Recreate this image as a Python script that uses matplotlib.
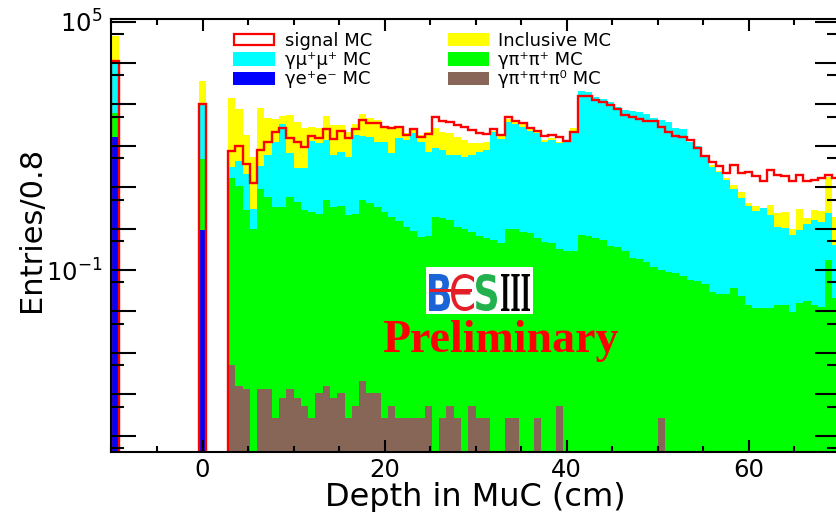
import numpy as np
import matplotlib
matplotlib.use("Agg")
import matplotlib.pyplot as plt
from matplotlib.patches import Rectangle, PathPatch
from matplotlib.textpath import TextPath
from matplotlib.font_manager import FontProperties
from matplotlib.transforms import Affine2D
from matplotlib.ticker import FixedLocator, FuncFormatter, MultipleLocator

plt.rcParams['font.family'] = ['DejaVu Sans']
plt.rcParams['mathtext.fontset'] = 'dejavusans'
plt.rcParams['mathtext.default'] = 'regular'

# ---------------- binning: 100 bins of 0.8 cm ----------------
depth_min, depth_max, n_bins = -10.0, 70.0, 100
edges = np.linspace(depth_min, depth_max, n_bins + 1)

# ---------------- histogram contents (10 bins per row) ----------------
signal_mc = [
    11200, 0, 0, 0, 0, 0, 0, 0, 0, 0,
    0, 0, 1020, 0, 0, 0, 76, 101, 36, 12.4,
    79, 126, 219, 274, 157, 121, 95, 176, 157, 250,
    143, 228, 157, 255, 420, 349, 349, 290, 264, 290,
    182, 255, 166, 189, 506, 397, 383, 318, 290, 241,
    208, 189, 255, 182, 488, 405, 362, 274, 228, 173,
    182, 160, 131, 219, 1630, 1630, 1280, 1120, 968, 760,
    555, 488, 436, 405, 405, 290, 219, 173, 166, 138,
    90, 57, 40, 33, 21.6, 34, 21.6, 22.8, 19, 14.1,
    26, 19.7, 19, 14.4, 19.7, 14.4, 14.9, 16.4, 19.7, 16.4,
]

inclusive_mc = [
    34000, 0, 0, 0, 0, 0, 0, 0, 0, 0,
    0, 0, 2720, 0, 0, 0, 1370, 731, 161, 52,
    800, 401, 310, 195, 487, 339, 235, 159, 149, 387,
    258, 246, 164, 148, 399, 313, 294, 185, 208, 155,
    62, 64, 56, 147, 177, 140, 138, 106, 83, 55,
    43, 47, 9, 31, 53, 39, 40, 36, 19, 12,
    13, 11, 5, 36, 0, 0, 0, 0, 0, 0,
    0, 0, 0, 0, 0, 0, 0, 0, 0, 0,
    0, 0, 2.7, 1.8, 2.1, 2.4, 2.4, 0.64, 0.94, 0,
    1.6, 1.23, 1.42, 0.28, 2.05, 0.57, 1.2, 1.19, 15.7, 1.54,
]

mumu_mc = [
    10600, 0, 0, 0, 0, 0, 0, 0, 0, 0,
    0, 0, 972, 0, 0, 0, 14.3, 32, 17.7, 2.0,
    23.4, 54, 123, 327, 62, 25, 25.8, 128, 113, 133,
    57, 68, 53, 180, 171, 162, 123, 118, 64, 150,
    137, 199, 125, 71, 85, 77, 60, 59, 54, 59,
    71, 78, 218, 144, 382, 329, 289, 227, 199, 125,
    138, 115, 121, 228, 2110, 2030, 1540, 1350, 1160, 881,
    733, 693, 643, 575, 461, 420, 369, 274, 255, 121,
    101, 57, 31.3, 22.8, 14.9, 8.9, 5.4, 3.6, 2.65, 3.2,
    2.12, 1.10, 1.04, 0.69, 0.90, 1.25, 1.60, 1.46, 2.17, 0.38,
]

pipi_mc = [
    457, 0, 0, 0, 0, 0, 0, 0, 0, 0,
    0, 0, 47, 0, 0, 0, 17, 10.9, 2.8, 0.98,
    9.1, 5.9, 3.4, 3.4, 5.7, 4.5, 2.8, 2.5, 2.25, 4.9,
    3.4, 3.5, 2.1, 2.2, 4.9, 4.1, 3.4, 2.5, 1.9, 1.5,
    1.1, 0.9, 0.64, 0.67, 1.9, 1.8, 1.6, 1.1, 1.0, 0.84,
    0.67, 0.58, 0.53, 0.44, 1.0, 0.98, 0.84, 0.77, 0.58, 0.48,
    0.44, 0.33, 0.29, 0.28, 0.70, 0.67, 0.58, 0.53, 0.37, 0.35,
    0.28, 0.19, 0.18, 0.16, 0.12, 0.10, 0.088, 0.083, 0.073, 0.057,
    0.054, 0.045, 0.029, 0.027, 0.027, 0.037, 0.023, 0.014, 0.012, 0.012,
    0.012, 0.014, 0.014, 0.0099, 0.016, 0.018, 0.014, 0.013, 0.17, 0.021,
]

ee_mc = [
    163, 0, 0, 0, 0, 0, 0, 0, 0, 0,
    0, 0, 0.93, 0, 0, 0, 0, 0, 0, 0,
    0, 0, 0, 0, 0, 0, 0, 0, 0, 0,
    0, 0, 0, 0, 0, 0, 0, 0, 0, 0,
    0, 0, 0, 0, 0, 0, 0, 0, 0, 0,
    0, 0, 0, 0, 0, 0, 0, 0, 0, 0,
    0, 0, 0, 0, 0, 0, 0, 0, 0, 0,
    0, 0, 0, 0, 0, 0, 0, 0, 0, 0,
    0, 0, 0, 0, 0, 0, 0, 0, 0, 0,
    0, 0, 0, 0, 0, 0, 0, 0, 0, 0,
]

# gamma pi+ pi+ pi0: raw event counts and per-event weight
pipipi0_events = [
    0, 0, 0, 0, 0, 0, 0, 0, 0, 0,
    0, 0, 0, 0, 0, 0, 19, 6, 5, 0,
    5, 5, 1, 3, 5, 3, 2, 1, 4, 6,
    3, 4, 1, 2, 8, 4, 4, 1, 2, 1,
    1, 1, 1, 2, 0, 1, 2, 1, 0, 2,
    1, 1, 0, 0, 1, 1, 0, 0, 1, 0,
    0, 2, 0, 0, 0, 0, 0, 0, 0, 0,
    0, 0, 0, 0, 0, 1, 0, 0, 0, 0,
    0, 0, 0, 0, 0, 0, 0, 0, 0, 0,
    0, 0, 0, 0, 0, 0, 0, 0, 0, 0,
]
pipipi0_weight = 2.65e-5

for arr in (signal_mc, inclusive_mc, mumu_mc, pipi_mc, ee_mc, pipipi0_events):
    assert len(arr) == n_bins

labels = {
    'signal': 'signal MC',
    'mumu': 'γμ⁺μ⁺ MC',
    'ee': 'γe⁺e⁻ MC',
    'incl': 'Inclusive MC',
    'pipi': 'γπ⁺π⁺ MC',
    'pipipi0': 'γπ⁺π⁺π⁰ MC',
}
colors = {
    'signal': '#ff0000',
    'mumu': '#00ffff',
    'ee': '#0000ff',
    'incl': '#ffff00',
    'pipi': '#00ff00',
    'pipipi0': '#876657',
}

# ---------------- figure ----------------
W, H = 836, 512
fig = plt.figure(figsize=(W / 100, H / 100), dpi=100)
fig.patch.set_facecolor('white')

# frame in pixels: x 111.5 .. 839.7, y 19 .. 452 (right edge runs off the canvas)
ax_l, ax_r, ax_t, ax_b = 111.5, 839.7, 19.0, 452.0
ax = fig.add_axes([ax_l / W, 1 - ax_b / H, (ax_r - ax_l) / W, (ax_b - ax_t) / H])

# stacked histogram (bottom -> top)
stack = [
    ('pipipi0', np.asarray(pipipi0_events, float) * pipipi0_weight),
    ('ee', np.asarray(ee_mc, float)),
    ('pipi', np.asarray(pipi_mc, float)),
    ('mumu', np.asarray(mumu_mc, float)),
    ('incl', np.asarray(inclusive_mc, float)),
]
cum = np.cumsum([v for _, v in stack], axis=0)
floor = 1e-9
for (key, _), level in reversed(list(zip(stack, cum))):
    ax.stairs(np.clip(level, floor, None), edges, baseline=floor, fill=True,
              facecolor=colors[key], edgecolor='none', linewidth=0, zorder=1)

# signal MC outline
ax.stairs(np.clip(np.asarray(signal_mc, float), floor, None), edges,
          baseline=floor, color=colors['signal'], linewidth=1.7, zorder=2)

ax.set_yscale('log')
ax.set_xlim(depth_min, depth_max)
ax.set_ylim(4.02e-6, 1.156e5)

for s in ax.spines.values():
    s.set_linewidth(1.5)
ax.set_axisbelow(False)

ax.xaxis.set_major_locator(MultipleLocator(20))
ax.xaxis.set_minor_locator(MultipleLocator(5))
ax.yaxis.set_major_locator(FixedLocator(10.0 ** np.arange(-5, 6)))
ax.yaxis.set_minor_locator(FixedLocator(5 * 10.0 ** np.arange(-6, 5)))


def ylab(v, pos):
    e = int(round(np.log10(v)))
    return f'$10^{{{e}}}$' if e in (5, -1) else ''


ax.yaxis.set_major_formatter(FuncFormatter(ylab))
ax.yaxis.set_minor_formatter(FuncFormatter(lambda v, p: ''))

ax.tick_params(axis='both', which='both', direction='in', top=True, right=True,
               width=1.5, colors='black', labelsize=17.5)
ax.tick_params(axis='x', which='major', length=8.6, pad=4.5)
ax.tick_params(axis='x', which='minor', length=4.3)
ax.tick_params(axis='y', which='major', length=18, pad=6.5)
ax.tick_params(axis='y', which='minor', length=9.4)

ax.set_xlabel('Depth in MuC (cm)', fontsize=23)
ax.xaxis.set_label_coords(0.5, (ax_b - 482.2) / (ax_b - ax_t))
ax.set_ylabel('Entries/0.8', fontsize=22)
ax.yaxis.set_label_coords((46 - ax_l) / (ax_r - ax_l), (ax_b - 229) / (ax_b - ax_t))


# ---------------- legend (two columns, ROOT style, no frame) ----------------
def fx(x):
    return x / W


def fy(y):
    return 1 - y / H


legend_rows = [39.3, 59.0, 78.3]
legend_cols = [(233, 275, 285), (448, 489, 498)]
entries = [['signal', 'mumu', 'ee'], ['incl', 'pipi', 'pipipi0']]
for (bx0, bx1, tx), col_keys in zip(legend_cols, entries):
    for yc, key in zip(legend_rows, col_keys):
        if key == 'signal':
            patch = Rectangle((fx(bx0 + 1), fy(yc + 5.8)), fx(bx1 - bx0 - 2), 11.6 / H,
                              facecolor='white', edgecolor=colors[key], linewidth=1.6,
                              transform=fig.transFigure)
        else:
            patch = Rectangle((fx(bx0), fy(yc + 6.6)), fx(bx1 - bx0), 13.2 / H,
                              facecolor=colors[key], edgecolor='none',
                              transform=fig.transFigure)
        fig.add_artist(patch)
        fig.text(fx(tx), fy(yc + 6.2), labels[key], fontsize=13,
                 ha='left', va='baseline')


# ---------------- BESIII logo and "Preliminary" ----------------
def glyph(text, box, color, prop):
    x0, ytop, x1, ybot = box
    tp = TextPath((0, 0), text, size=100, prop=prop)
    bb = tp.get_extents()
    tr = (Affine2D().translate(-bb.x0, -bb.y0)
          .scale((x1 - x0) / bb.width / W, (ybot - ytop) / bb.height / H)
          .translate(x0 / W, 1 - ybot / H))
    fig.add_artist(PathPatch(tr.transform_path(tp), facecolor=color,
                             edgecolor='none', transform=fig.transFigure))


fig.add_artist(Rectangle((fx(426), fy(314)), fx(533 - 426), (314 - 267) / H,
                         facecolor='white', edgecolor='none', transform=fig.transFigure))
sans_b = FontProperties(family='DejaVu Sans', weight='bold')
sans = FontProperties(family='DejaVu Sans')
serif_b = FontProperties(family='Liberation Serif', weight='bold')
glyph('B', (429, 274, 450, 311), '#1a64d6', sans_b)
glyph('Є', (451, 274, 474, 311), '#e41e26', sans)
glyph('S', (476, 274, 497, 311), '#23b14d', sans_b)
glyph('III', (501, 274, 530, 311), 'black', serif_b)
fig.add_artist(Rectangle((fx(429), fy(292)), fx(43), 3.5 / H,
                         facecolor='#e41e26', edgecolor='none', transform=fig.transFigure))

fig.text(fx(500), fy(351.7), 'Preliminary', color='#ff0000', fontsize=33,
         fontweight='bold', family='Liberation Serif', ha='center', va='baseline')

fig.savefig('out.png', dpi=100)
